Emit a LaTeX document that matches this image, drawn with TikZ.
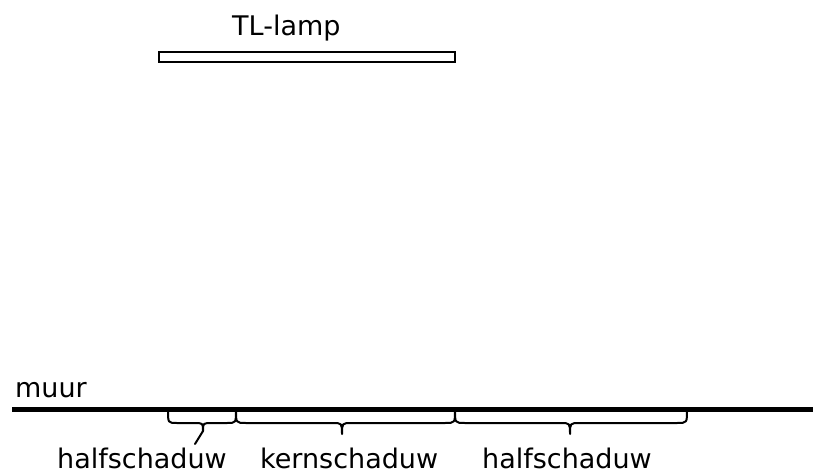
\documentclass[tikz,border=0pt]{standalone}
\usepackage{fontspec}
\setmainfont{DejaVu Sans}
\begin{document}
\begin{tikzpicture}[x=1pt,y=-1pt,
  lbl/.style={inner sep=0pt,anchor=base west,font=\fontsize{27}{32}\selectfont},
  bracepath/.style={line width=2pt,line cap=round,line join=round}]
\useasboundingbox (0,0) rectangle (816,473);
\node[draw,line width=2pt,minimum width=296pt,minimum height=10pt,inner sep=0pt] (lamp) at (306.5,57) {};
\node[lbl] (tl) at (232,36) {TL-lamp};
\coordinate (wl) at (12,409.5);
\coordinate (wr) at (813,409.5);
\draw[line width=5pt] (wl) -- (wr);
\node[lbl] (muur) at (15,397) {muur};
% braces
\draw[bracepath] (168,410) .. controls (168,423) .. (177,423) -- (194,423)
  .. controls (203,423) .. (203,431) .. controls (203,423) .. (212,423) -- (227,423)
  .. controls (236,423) .. (236,410);
\draw[bracepath] (203,431) -- (195,444);
\draw[bracepath] (236,410) .. controls (236,423) .. (246,423) -- (332,423)
  .. controls (342,423) .. (342,434) .. controls (342,423) .. (352,423) -- (445,423)
  .. controls (455,423) .. (455,410);
\draw[bracepath] (455,410) .. controls (455,423) .. (465,423) -- (560,423)
  .. controls (570,423) .. (570,434) .. controls (570,423) .. (580,423) -- (677,423)
  .. controls (687,423) .. (687,410);
\node[lbl] (h1) at (57,468) {halfschaduw};
\node[lbl] (k) at (260,468) {kernschaduw};
\node[lbl] (h2) at (482,468) {halfschaduw};
\end{tikzpicture}
\end{document}
